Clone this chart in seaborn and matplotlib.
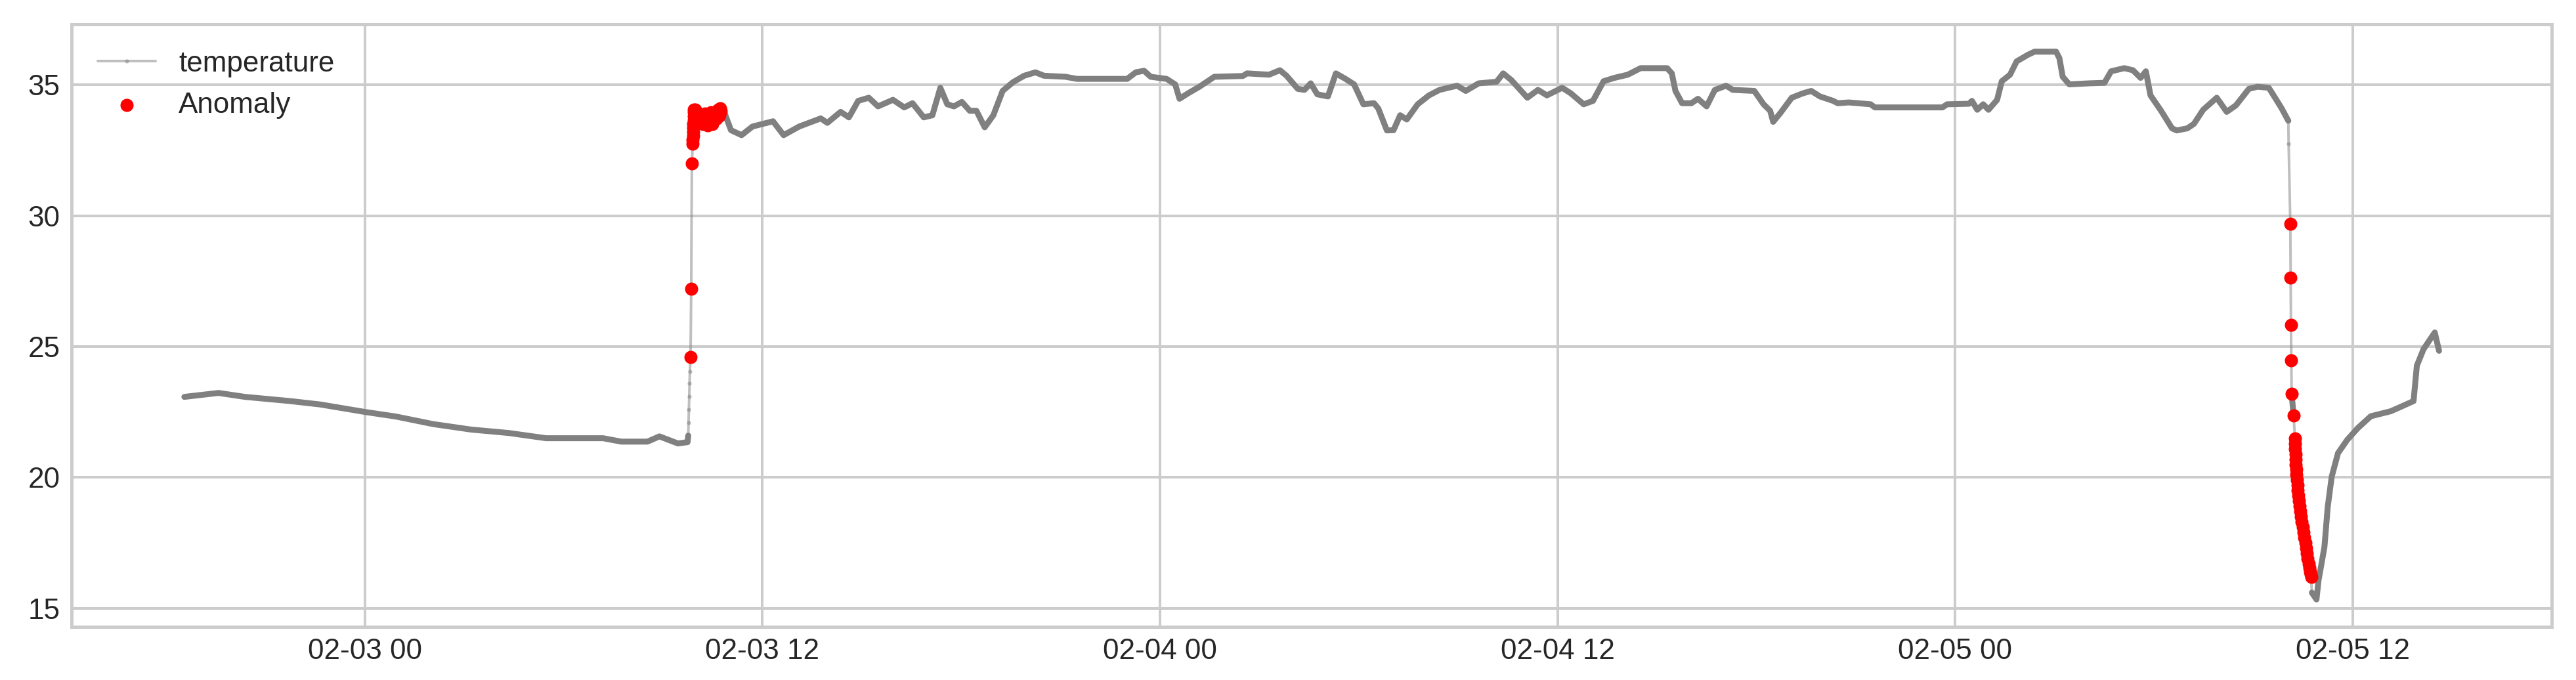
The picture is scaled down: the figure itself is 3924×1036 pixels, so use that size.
import numpy as np
import pandas as pd
import matplotlib
matplotlib.use("Agg")
import matplotlib.pyplot as plt
import matplotlib.dates as mdates
import seaborn as sns

START = pd.Timestamp("2020-02-03 00:00")

# temperature readings: hours since 02-03 00:00 and value
temp_hours = [
    -5.45, -4.42, -3.62, -2.26, -1.35, 0.02, 0.93, 2.06, 3.21, 4.34, 5.47, 7.19, 7.74, 8.53, 8.89, 9.45, 9.74,
    9.76, 9.77, 9.78, 9.79, 9.80, 9.81,
    10.85, 11.05, 11.37, 11.70, 12.32, 12.64, 13.11, 13.76, 13.96, 14.36, 14.61, 14.89, 15.21, 15.49, 15.94,
    16.28, 16.53, 16.87, 17.13, 17.37, 17.58, 17.78, 18.02, 18.26, 18.46, 18.71, 18.97, 19.25, 19.56, 19.90,
    20.24, 20.50, 21.15, 21.49, 22.14, 23.01, 23.27, 23.52, 23.72, 24.20, 24.46, 24.59, 24.85, 25.19, 25.64,
    26.50, 26.63, 27.29, 27.62, 27.82, 28.16, 28.36, 28.55, 28.75, 29.07, 29.31, 29.60, 29.86, 30.14, 30.46,
    30.59, 30.85, 31.05, 31.25, 31.45, 31.78, 32.12, 32.44, 32.97, 33.23, 33.62, 34.16, 34.36, 34.61, 35.09,
    35.41, 35.68, 36.14, 36.40, 36.79, 37.07, 37.39, 37.72, 38.12, 38.51, 39.31, 39.45, 39.56, 39.76, 40.04,
    40.24, 40.50, 40.75, 41.09, 41.29, 41.94, 42.22, 42.42, 42.51, 42.73, 43.07, 43.41, 43.66, 43.92, 44.32,
    44.46, 44.79, 45.45, 45.58, 47.62, 47.76, 48.42, 48.51, 48.67, 48.85, 49.01, 49.27, 49.41, 49.66, 49.86,
    50.20, 50.40, 51.05, 51.15, 51.25, 51.45, 52.04, 52.51, 52.71, 53.11, 53.37, 53.60, 53.76, 53.90, 54.22,
    54.55, 54.69, 55.01, 55.21, 55.49, 55.90, 56.20, 56.48, 56.87, 57.13, 57.47, 57.66, 57.86, 58.06, 58.07,
    58.77, 58.91, 58.97, 59.15, 59.25, 59.37, 59.56, 59.84, 60.16, 60.55, 61.15, 61.49, 61.84, 61.94, 62.14,
    62.48, 62.61,
]
temp_values = [
    23.08, 23.23, 23.08, 22.92, 22.79, 22.50, 22.33, 22.04, 21.83, 21.70, 21.50, 21.50, 21.37, 21.37, 21.57, 21.30, 21.35,
    21.60, 22.10, 22.60, 23.10, 23.60, 24.05,
    33.95, 33.27, 33.08, 33.41, 33.61, 33.08, 33.41, 33.72, 33.55, 33.97, 33.76, 34.39, 34.51, 34.18, 34.43,
    34.14, 34.30, 33.76, 33.84, 34.89, 34.26, 34.18, 34.35, 34.01, 34.01, 33.38, 33.84, 34.77, 35.10, 35.35,
    35.48, 35.35, 35.31, 35.23, 35.23, 35.23, 35.48, 35.54, 35.31, 35.23, 35.02, 34.47, 34.68, 34.93, 35.31,
    35.34, 35.44, 35.39, 35.56, 35.35, 34.85, 34.81, 35.06, 34.64, 34.56, 35.44, 35.23, 35.02, 34.26, 34.30,
    34.10, 33.26, 33.27, 33.84, 33.68, 34.26, 34.60, 34.81, 34.97, 34.77, 35.06, 35.12, 35.44, 35.18, 34.51,
    34.81, 34.60, 34.89, 34.68, 34.26, 34.39, 35.14, 35.27, 35.39, 35.64, 35.64, 35.44, 34.77, 34.30, 34.30,
    34.47, 34.18, 34.81, 34.97, 34.81, 34.77, 34.26, 34.01, 33.59, 33.93, 34.51, 34.68, 34.77, 34.56, 34.39,
    34.30, 34.33, 34.26, 34.14, 34.14, 34.26, 34.28, 34.39, 34.05, 34.26, 34.05, 34.43, 35.14, 35.39, 35.90,
    36.15, 36.27, 36.27, 36.02, 35.31, 35.02, 35.06, 35.08, 35.52, 35.64, 35.56, 35.27, 35.52, 34.60, 34.01,
    33.34, 33.26, 33.34, 33.51, 34.05, 34.51, 33.97, 34.22, 34.85, 34.93, 34.89, 34.51, 34.10, 33.63, 32.76,
    15.60, 15.34, 16.05, 17.34, 18.88, 20.03, 20.93, 21.44, 21.89, 22.34, 22.53, 22.72, 22.92, 24.27, 24.90,
    25.54, 24.84,
]

# readings flagged as anomalies
anomaly_hours = [
    9.83, 9.85, 9.87, 9.895, 9.90, 9.905, 9.91, 9.915, 9.92, 9.925, 9.93, 9.935, 9.94, 9.96, 9.98, 10.01,
    10.05, 10.08, 10.12, 10.16, 10.20, 10.23, 10.26, 10.30, 10.34, 10.37, 10.40, 10.44, 10.48, 10.52,
    10.55, 10.58, 10.61, 10.64, 10.66, 10.69, 10.71, 10.73, 10.75,
    58.12, 58.13, 58.14, 58.15, 58.16, 58.22, 58.26, 58.265, 58.27, 58.275, 58.28, 58.29, 58.30, 58.31,
    58.32, 58.335, 58.35, 58.365, 58.38, 58.40, 58.42, 58.445, 58.47, 58.495, 58.52, 58.545, 58.57,
    58.595, 58.62, 58.645, 58.67, 58.695, 58.72, 58.735, 58.75,
]
anomaly_values = [
    24.60, 27.20, 32.00, 32.75, 32.90, 33.05, 33.20, 33.35, 33.50, 33.65, 33.80, 33.95, 34.05, 33.85, 34.05, 33.70,
    33.90, 33.55, 33.60, 33.85, 33.50, 33.75, 33.90, 33.55, 33.45, 33.70, 33.80, 33.95, 33.50, 33.75,
    33.95, 33.80, 33.70, 33.95, 34.05, 33.80, 33.85, 34.10, 34.00,
    29.70, 27.63, 25.84, 24.48, 23.20, 22.36, 21.50, 21.30, 21.10, 20.90, 20.70, 20.50, 20.30, 20.10,
    19.90, 19.70, 19.50, 19.30, 19.10, 18.90, 18.70, 18.50, 18.30, 18.10, 17.90, 17.70, 17.50,
    17.30, 17.10, 16.90, 16.70, 16.55, 16.40, 16.30, 16.20,
]

normal = pd.DataFrame({"hours": temp_hours, "temperature": temp_values})
anom = pd.DataFrame({"hours": anomaly_hours, "temperature": anomaly_values})
series = pd.concat([normal, anom]).sort_values("hours", kind="stable").reset_index(drop=True)
series["time"] = START + pd.to_timedelta(series["hours"], unit="h")
anom["time"] = START + pd.to_timedelta(anom["hours"], unit="h")

# break the thick band on very steep segments (sudden jumps drawn as thin line)
dt = series["hours"].diff().to_numpy()
dv = series["temperature"].diff().abs().to_numpy()
with np.errstate(divide="ignore", invalid="ignore"):
    steep = np.where(np.isnan(dt), False, dv / np.maximum(dt, 1e-9) > 20)
series["seg"] = np.cumsum(steep)

sns.set_style("whitegrid")
plt.rcParams.update({
    "font.family": ["Liberation Sans", "DejaVu Sans"],
    "font.size": 9,
    "axes.edgecolor": "0.8",
    "axes.linewidth": 1.0,
    "grid.color": "0.8",
    "grid.linewidth": 0.8,
    "xtick.color": "0.15",
    "ytick.color": "0.15",
    "xtick.labelsize": 8.8,
    "ytick.labelsize": 8.8,
    "xtick.major.size": 0,
    "ytick.major.size": 0,
    "xtick.major.pad": 3.5,
    "ytick.major.pad": 3.5,
})

fig = plt.figure(figsize=(3924 / 360, 1036 / 360), dpi=360)
ax = fig.add_axes([0.0278, 0.0782, 0.9628, 0.8861])

sns.lineplot(data=series, x="time", y="temperature", ax=ax, color="gray", alpha=0.5,
             linewidth=0.8, marker=".", markersize=2.5, markeredgewidth=0, markeredgecolor="gray",
             estimator=None, sort=False, label="temperature", zorder=2)
sns.lineplot(data=series, x="time", y="temperature", units="seg", estimator=None, sort=False,
             ax=ax, color="gray", linewidth=1.8, legend=False, zorder=3)
sns.scatterplot(data=anom, x="time", y="temperature", ax=ax, color="red", s=16,
                linewidth=0, label="Anomaly", zorder=4)

ax.xaxis.set_major_locator(mdates.HourLocator(byhour=[0, 12]))
ax.xaxis.set_major_formatter(mdates.DateFormatter("%m-%d %H"))
ax.set_xlabel("")
ax.set_ylabel("")
ax.set_yticks([15, 20, 25, 30, 35])
for sp in ax.spines.values():
    sp.set_visible(True)
    sp.set_color("0.8")

ax.legend(loc="upper left", frameon=False, fontsize=8.8)
for t in ax.get_legend().get_texts():
    t.set_color("0.15")

fig.savefig("out.png", dpi=360)
